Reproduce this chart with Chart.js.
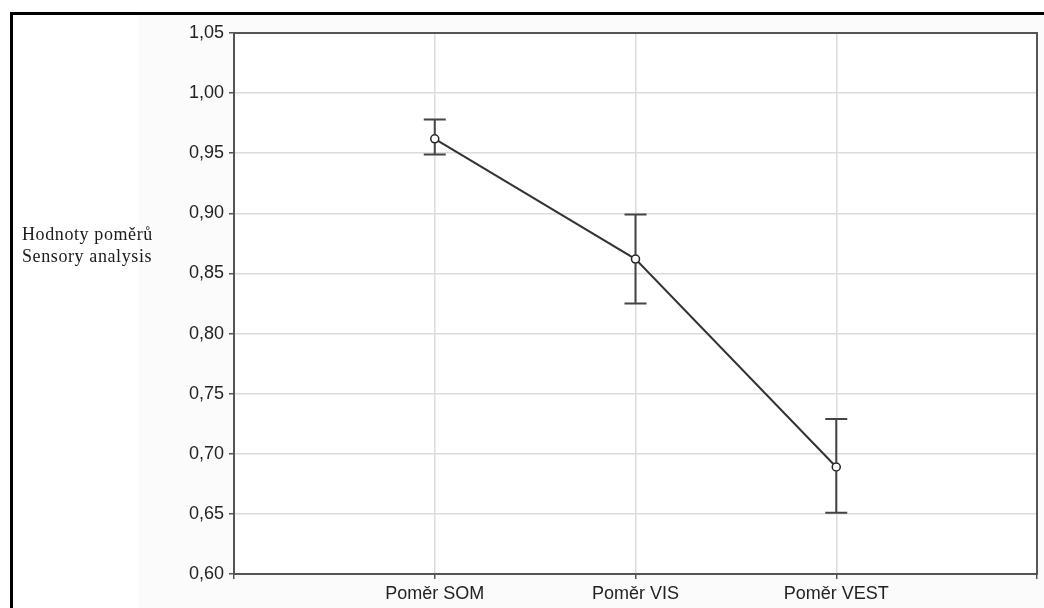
<!DOCTYPE html>
<html>
<head>
<meta charset="utf-8">
<script src="https://cdn.jsdelivr.net/npm/chart.js@4.4.0/dist/chart.umd.min.js"></script>
<style>
    html, body { margin: 0; padding: 0; background: #fff; }
    #wrap { width: 1044px; height: 608px; position: relative; }
</style>
</head>
<body>
<div id="wrap"><canvas id="chart" width="1044" height="608"></canvas></div>
<script>
// Données
const categories = ['Poměr SOM', 'Poměr VIS', 'Poměr VEST'];
const means = [0.962, 0.862, 0.689];
const upper = [0.978, 0.899, 0.729];
const lower = [0.949, 0.825, 0.651];
const yTitle = ['Hodnoty poměrů', 'Sensory analysis'];

// Cadre extérieur + fond gris clair
const framePlugin = {
    id: 'frame',
    beforeDraw(chart) {
        const ctx = chart.ctx;
        ctx.save();
        ctx.fillStyle = '#fbfbfb';
        ctx.fillRect(138, 14, chart.width - 138, chart.height - 14);
        ctx.fillStyle = '#ffffff';
        const a = chart.chartArea;
        ctx.fillRect(a.left, a.top, a.right - a.left, a.bottom - a.top);
        ctx.strokeStyle = '#000';
        ctx.lineWidth = 3;
        ctx.beginPath();
        ctx.moveTo(11.5, chart.height + 5);
        ctx.lineTo(11.5, 13.5);
        ctx.lineTo(chart.width + 5, 13.5);
        ctx.stroke();
        ctx.restore();
    },
    afterDraw(chart) {
        const ctx = chart.ctx;
        const a = chart.chartArea;
        ctx.save();
        // bordure du graphique
        ctx.strokeStyle = '#555';
        ctx.lineWidth = 2;
        ctx.strokeRect(a.left, a.top, a.right - a.left, a.bottom - a.top);
        // titre de l'axe Y (texte horizontal)
        ctx.fillStyle = '#1a1a1a';
        ctx.font = '18px "Liberation Serif", "Times New Roman", serif';
        ctx.letterSpacing = '0.6px';
        ctx.textBaseline = 'alphabetic';
        ctx.textAlign = 'left';
        ctx.fillText(yTitle[0], 22, 240);
        ctx.fillText(yTitle[1], 22, 262);
        ctx.restore();
    }
};

// Barres d'erreur
const errorBarPlugin = {
    id: 'errorBars',
    afterDatasetsDraw(chart) {
        const ctx = chart.ctx;
        const xs = chart.scales.x;
        const ys = chart.scales.y;
        ctx.save();
        ctx.strokeStyle = '#444';
        ctx.lineWidth = 2;
        means.forEach((m, i) => {
            const x = xs.getPixelForValue(i + 1);
            const yTop = ys.getPixelForValue(upper[i]);
            const yBot = ys.getPixelForValue(lower[i]);
            const yMid = ys.getPixelForValue(m);
            ctx.beginPath();
            ctx.moveTo(x, yTop);
            ctx.lineTo(x, yMid - 4);
            ctx.moveTo(x, yMid + 4);
            ctx.lineTo(x, yBot);
            ctx.moveTo(x - 11, yTop);
            ctx.lineTo(x + 11, yTop);
            ctx.moveTo(x - 11, yBot);
            ctx.lineTo(x + 11, yBot);
            ctx.stroke();
        });
        ctx.restore();
    }
};

const yFont = { family: '"Liberation Sans", Arial, sans-serif', size: 18 };
const xFont = { family: '"Liberation Sans", Arial, sans-serif', size: 18 };

new Chart(document.getElementById('chart'), {
    type: 'line',
    data: {
        datasets: [{
            data: means.map((m, i) => ({ x: i + 1, y: m })),
            borderColor: '#333',
            borderWidth: 2,
            pointRadius: 4,
            pointBorderWidth: 1.5,
            pointBorderColor: '#222',
            pointBackgroundColor: '#fff',
            tension: 0,
        }]
    },
    options: {
        responsive: false,
        animation: false,
        layout: { padding: { top: 33, right: 7, left: 0, bottom: 0 } },
        plugins: {
            legend: { display: false },
            tooltip: { enabled: false },
        },
        scales: {
            x: {
                type: 'linear',
                min: 0,
                max: 4,
                afterBuildTicks(scale) {
                    scale.ticks = [0, 1, 2, 3, 4].map(v => ({ value: v }));
                },
                afterFit(scale) { scale.height = 34; },
                ticks: {
                    font: xFont,
                    color: '#222',
                    padding: 4,
                    maxRotation: 0,
                    callback: (v) => categories[v - 1] || '',
                },
                grid: { color: '#dcdcdc', lineWidth: 1.5, tickLength: 5, tickColor: '#555' },
                border: { display: false },
            },
            y: {
                min: 0.6,
                max: 1.05,
                afterBuildTicks(scale) {
                    const t = [];
                    for (let i = 0; i <= 9; i++) t.push({ value: Math.round((0.6 + i * 0.05) * 100) / 100 });
                    scale.ticks = t;
                },
                afterFit(scale) { scale.width = 234; },
                ticks: {
                    font: yFont,
                    color: '#222',
                    padding: 5,
                    callback: (v) => v.toFixed(2).replace('.', ','),
                },
                grid: { color: '#dcdcdc', lineWidth: 1.5, tickLength: 5, tickColor: '#555' },
                border: { display: false },
            }
        }
    },
    plugins: [framePlugin, errorBarPlugin]
});
</script>
</body>
</html>
